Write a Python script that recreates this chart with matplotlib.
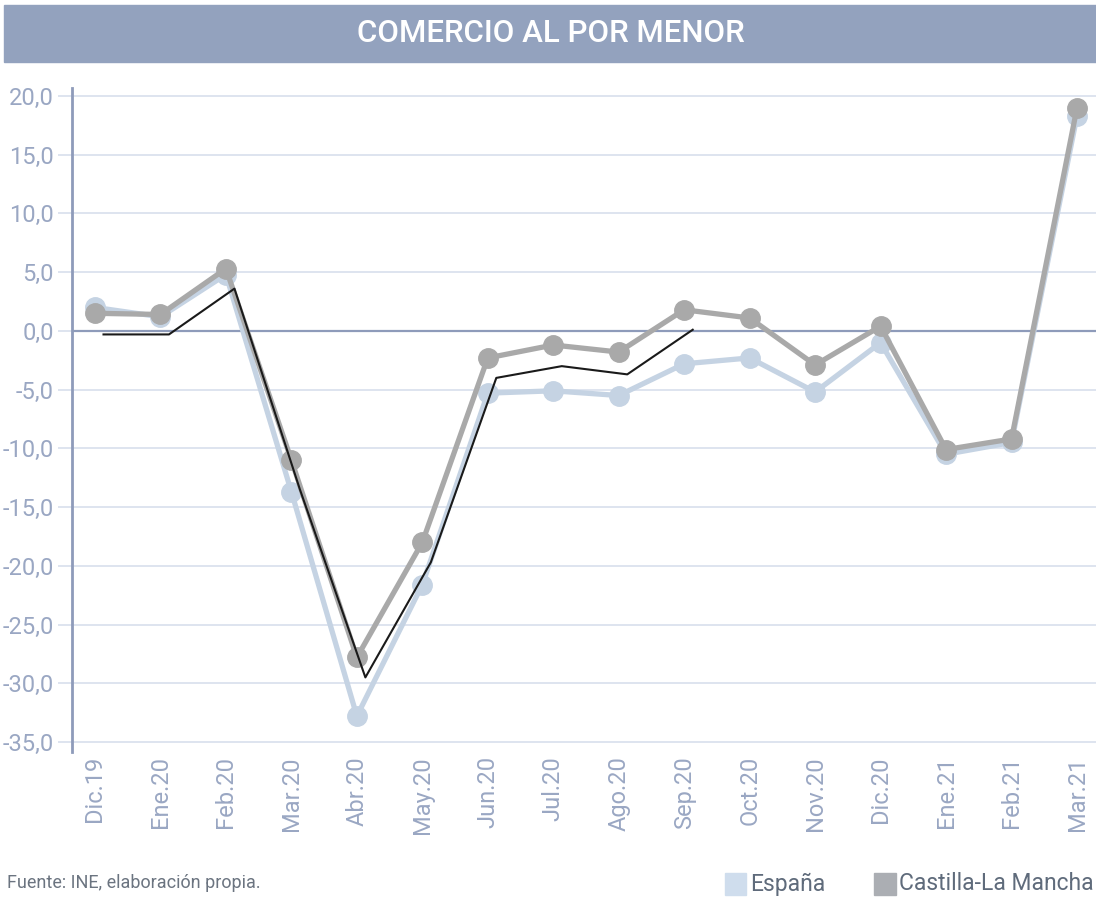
import numpy as np
import matplotlib.pyplot as plt
from matplotlib.patches import Rectangle
from matplotlib.ticker import FuncFormatter

plt.rcParams['font.family'] = ['Roboto', 'DejaVu Sans']

meses = ['Dic.19', 'Ene.20', 'Feb.20', 'Mar.20', 'Abr.20', 'May.20', 'Jun.20',
         'Jul.20', 'Ago.20', 'Sep.20', 'Oct.20', 'Nov.20', 'Dic.20', 'Ene.21',
         'Feb.21', 'Mar.21']
espana = [2.0, 1.2, 4.8, -13.7, -32.8, -21.6, -5.3, -5.1, -5.5, -2.8, -2.3,
          -5.2, -1.0, -10.5, -9.5, 18.3]
clm = [1.5, 1.4, 5.3, -11.0, -27.8, -18.0, -2.3, -1.2, -1.8, 1.8, 1.1,
       -2.9, 0.4, -10.1, -9.2, 19.0]
# serie sin leyenda (linea negra fina), solo hasta Sep.20
extra = [-0.3, -0.3, 3.6, -13.5, -29.5, -19.7, -4.0, -3.0, -3.7, 0.1]
yticks = [20, 15, 10, 5, 0, -5, -10, -15, -20, -25, -30, -35]

c_esp = '#c5d3e3'
c_clm = '#a9a9a9'
c_axis = '#8e9bba'
c_grid = '#d8dfec'
c_lab = '#9aa7c3'

fig = plt.figure(figsize=(10.96, 8.98), dpi=100)
ax = fig.add_axes([72/1096, 1-752/898, 1-72/1096, (752-88)/898])

# banner del titulo
fig.patches.append(Rectangle((4/1096, 1-62/898), 1092/1096, 57/898,
                             transform=fig.transFigure, color='#93a2be', zorder=0))
fig.text(551/1096, 1-34/898, 'COMERCIO AL POR MENOR', color='white', fontsize=22.5,
         fontweight='medium', ha='center', va='center')

x = np.arange(len(meses))
for yv in yticks:
    if yv == 0:
        ax.axhline(yv, color=c_axis, lw=1.6, zorder=1)
    else:
        ax.axhline(yv, color=c_grid, lw=1.2, zorder=1)

ax.plot(x, espana, color=c_esp, lw=3.8, marker='o', ms=14, zorder=3)
ax.plot(x, clm, color=c_clm, lw=3.8, marker='o', ms=14, zorder=4)
ax.plot(np.arange(len(extra)) + 0.13, extra, color='#1a1a1a', lw=1.5, zorder=5)

ax.set_xlim(-23/65.47, 15 + 19/65.47)
ax.set_ylim(-35 - 10/11.745, 20 + 8/11.745)
ax.set_yticks(yticks)
ax.yaxis.set_major_formatter(FuncFormatter(lambda v, p: f'{v:.1f}'.replace('.', ',')))
ax.set_xticks(x)
ax.set_xticklabels(meses, rotation=90, fontsize=17, color=c_lab)
ax.tick_params(axis='x', length=0, pad=3)
ax.tick_params(axis='y', length=10, width=1.2, color=c_grid, pad=3,
               labelsize=17, labelcolor=c_lab)

for s in ['top', 'right', 'bottom']:
    ax.spines[s].set_visible(False)
ax.spines['left'].set_color(c_axis)
ax.spines['left'].set_linewidth(2)

fig.text(7/1096, 1-883/898, 'Fuente: INE, elaboración propia.', color='#6b7480',
         fontsize=13, va='center')

# leyenda manual
fig.patches.append(Rectangle((725/1096, 1-895/898), 21/1096, 22/898,
                             transform=fig.transFigure, color='#cfdded'))
fig.text(750/1096, 1-884/898, 'España', color='#5f6b7b', fontsize=16.5, va='center')
fig.patches.append(Rectangle((874/1096, 1-895/898), 22/1096, 22/898,
                             transform=fig.transFigure, color='#abaeb3'))
fig.text(1094/1096, 1-884/898, 'Castilla-La Mancha', color='#5f6b7b', fontsize=16.5,
         va='center', ha='right')

fig.savefig('out.png', dpi=100)
